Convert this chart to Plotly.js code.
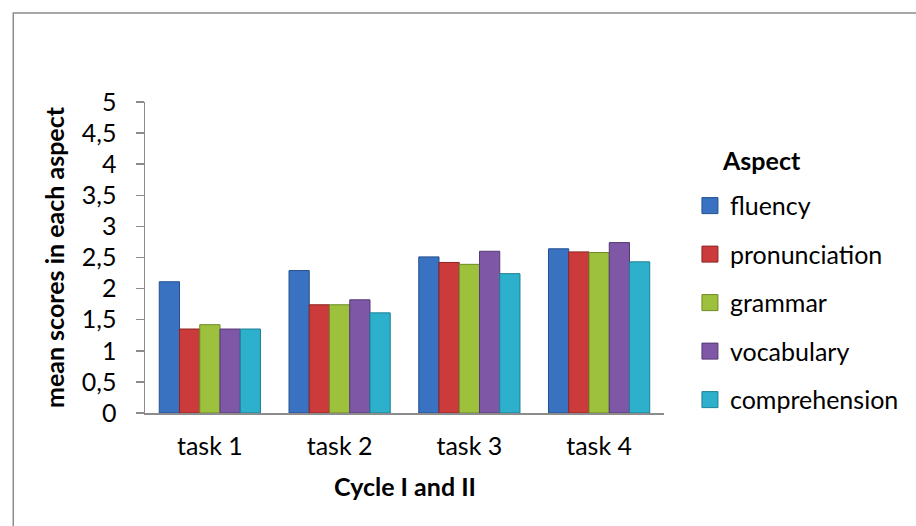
<!DOCTYPE html>
<html>
<head>
<meta charset="utf-8">
<script src="https://cdn.plot.ly/plotly-3.0.1.min.js"></script>
<style>
  html, body { margin: 0; padding: 0; background: #ffffff; }
  #chart { width: 916px; height: 526px; }
</style>
</head>
<body>
<div id="chart"></div>
<script>
// Mean scores per speaking aspect, tasks 1-4 (Cycle I and II)
const tasks = ['task 1', 'task 2', 'task 3', 'task 4'];

const fluency       = [2.11, 2.29, 2.51, 2.64];
const pronunciation = [1.35, 1.74, 2.42, 2.59];
const grammar       = [1.42, 1.74, 2.39, 2.58];
const vocabulary    = [1.35, 1.82, 2.60, 2.74];
const comprehension = [1.35, 1.61, 2.24, 2.43];

const aspectNames = ['fluency', 'pronunciation', 'grammar', 'vocabulary', 'comprehension'];
const yTickVals   = [0, 0.5, 1, 1.5, 2, 2.5, 3, 3.5, 4, 4.5, 5];
const yTickText   = ['0', '0,5', '1', '1,5', '2', '2,5', '3', '3,5', '4', '4,5', '5'];

const seriesValues = [fluency, pronunciation, grammar, vocabulary, comprehension];
const fills  = ['#3a72c2', '#cc3b3b', '#9dc13d', '#7e57a6', '#2cb0cb'];
const edges  = ['#24508f', '#8e2424', '#6d8a25', '#553a75', '#1d7f95'];

const FONT = 'Lato, Calibri, Carlito, sans-serif';
const FS = 25;

// grouped bars, one trace per aspect
const barTraces = aspectNames.map((name, i) => ({
  type: 'bar',
  name: name,
  x: tasks,
  y: seriesValues[i],
  legendgroup: name,
  showlegend: false,
  marker: { color: fills[i], line: { color: edges[i], width: 1 } },
  hoverinfo: 'x+y+name'
}));

// legend keys drawn as larger square swatches
const keyTraces = aspectNames.map((name, i) => ({
  type: 'scatter',
  mode: 'markers',
  name: name,
  x: [tasks[0]],
  y: [null],
  legendgroup: name,
  showlegend: true,
  marker: { symbol: 'square', size: 16, color: fills[i], line: { color: edges[i], width: 1 } },
  hoverinfo: 'skip'
}));

const layout = {
  width: 916,
  height: 526,
  paper_bgcolor: '#ffffff',
  plot_bgcolor: '#ffffff',
  margin: { l: 145, r: 247, t: 102, b: 113 },
  font: { family: FONT, size: FS, color: '#000000' },
  barmode: 'group',
  bargap: 0.22,
  bargroupgap: 0,
  showlegend: true,
  xaxis: {
    type: 'category',
    showline: true,
    linecolor: '#8c8c8c',
    linewidth: 1.5,
    ticks: '',
    ticklabelstandoff: 10,
    tickfont: { family: FONT, size: FS, color: '#000000' },
    showgrid: false,
    zeroline: false
  },
  yaxis: {
    range: [0, 5],
    tickmode: 'array',
    tickvals: yTickVals,
    ticktext: yTickText,
    showline: true,
    linecolor: '#8c8c8c',
    linewidth: 1.5,
    ticks: 'outside',
    ticklen: 8,
    tickwidth: 1.5,
    tickcolor: '#8c8c8c',
    ticklabelstandoff: 14,
    tickfont: { family: FONT, size: FS, color: '#000000' },
    showgrid: false,
    zeroline: false,
    title: { text: '<b>mean scores in each aspect</b>', font: { family: FONT, size: FS, color: '#000000' }, standoff: 10 }
  },
  legend: {
    x: 1.05,
    xanchor: 'left',
    y: 0.74,
    yanchor: 'top',
    traceorder: 'grouped',
    tracegroupgap: 13,
    bgcolor: 'rgba(0,0,0,0)',
    font: { family: FONT, size: FS, color: '#000000' }
  },
  annotations: [{
    text: '<b>Aspect</b>',
    xref: 'paper', yref: 'paper',
    x: 1.108, y: 0.815,
    xanchor: 'left', yanchor: 'middle',
    showarrow: false,
    font: { family: FONT, size: FS, color: '#000000' }
  }, {
    text: '<b>Cycle I and II</b>',
    xref: 'paper', yref: 'paper',
    x: 0.5, y: -0.235,
    xanchor: 'center', yanchor: 'middle',
    showarrow: false,
    font: { family: FONT, size: FS, color: '#000000' }
  }],
  shapes: [{
    type: 'rect',
    xref: 'paper', yref: 'paper',
    x0: -0.2538, x1: 1.6,
    y0: -0.5, y1: 1.2865,
    line: { color: '#8c8c8c', width: 1.5 },
    fillcolor: 'rgba(0,0,0,0)',
    layer: 'below'
  }]
};

Plotly.newPlot('chart', barTraces.concat(keyTraces), layout, { displayModeBar: false, staticPlot: true });
</script>
</body>
</html>
